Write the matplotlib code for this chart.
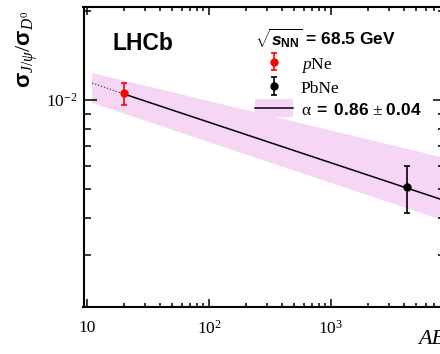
import matplotlib
matplotlib.use("Agg")
import matplotlib.pyplot as plt
from matplotlib.lines import Line2D
from matplotlib.ticker import FixedLocator, FixedFormatter, LogLocator, NullFormatter

plt.rcParams["font.family"] = ["Liberation Serif", "DejaVu Serif"]
plt.rcParams["mathtext.fontset"] = "custom"
plt.rcParams["mathtext.rm"] = "Liberation Serif"
plt.rcParams["mathtext.it"] = "Liberation Serif:italic"
plt.rcParams["mathtext.bf"] = "Liberation Sans:bold"
plt.rcParams["mathtext.bfit"] = "Liberation Sans:italic:bold"
plt.rcParams["mathtext.sf"] = "Liberation Sans"

# data
ab_pne = [20]
ratio_pne = [0.01054]
err_pne_lo = [0.00092]
err_pne_hi = [0.00087]

ab_pbne = [4160]
ratio_pbne = [0.00508]
err_pbne_lo = [0.00093]
err_pbne_hi = [0.00090]

# power-law fit, dotted extrapolation below pNe
fit_ab_extrap = [11, 20]
fit_extrap = [0.01141, 0.01048]
fit_ab = [20, 8600]
fit_vals = [0.01048, 0.004570]

band_ab = [11, 8600]
band_hi = [0.01234, 0.00637]
band_lo = [0.00977, 0.00390]

xtick_vals = [10, 100, 1000]
xtick_labels = ["10", "$10^{2}$", "$10^{3}$"]
ytick_vals = [0.01]
ytick_labels = ["$10^{-2}$"]

band_color = "#f5d6f5"

fig = plt.figure(figsize=(4.4, 3.54), dpi=100)
ax = fig.add_axes([83.5 / 440, 47 / 354, 361.5 / 440, 300 / 354])

ax.set_xscale("log")
ax.set_yscale("log")
ax.set_xlim(9.36, 8600)
ax.set_ylim(0.0020, 0.0206)

# uncertainty band
ax.fill_between(
    band_ab,
    band_lo,
    band_hi,
    facecolor=band_color,
    edgecolor="none",
    zorder=1
)

ax.plot(
    fit_ab_extrap,
    fit_extrap,
    color="#444444",
    linestyle=(0, (1, 1.5)),
    linewidth=0.9,
    zorder=2
)

ax.plot(
    fit_ab,
    fit_vals,
    color="black",
    linewidth=1.1,
    zorder=2
)

pne = ax.errorbar(
    ab_pne,
    ratio_pne,
    yerr=[err_pne_lo, err_pne_hi],
    fmt="o",
    color="#ff0000",
    markersize=5,
    elinewidth=1.2,
    capsize=2.5,
    capthick=1.2,
    zorder=3
)

pbne = ax.errorbar(
    ab_pbne,
    ratio_pbne,
    yerr=[err_pbne_lo, err_pbne_hi],
    fmt="o",
    color="black",
    markersize=5,
    elinewidth=1.2,
    capsize=2.5,
    capthick=1.2,
    zorder=3
)

# axes styling
for spine in ax.spines.values():
    spine.set_linewidth(1.5)

ax.xaxis.set_major_locator(FixedLocator(xtick_vals))
ax.xaxis.set_major_formatter(FixedFormatter(xtick_labels))
ax.xaxis.set_minor_locator(LogLocator(base=10, subs=range(2, 10), numticks=20))
ax.xaxis.set_minor_formatter(NullFormatter())
ax.yaxis.set_major_locator(FixedLocator(ytick_vals))
ax.yaxis.set_major_formatter(FixedFormatter(ytick_labels))
ax.yaxis.set_minor_locator(LogLocator(base=10, subs=range(2, 10), numticks=20))
ax.yaxis.set_minor_formatter(NullFormatter())

ax.tick_params(axis="both", which="both", direction="in",
               top=True, right=True, width=1.1, labelsize=12.5)
ax.tick_params(axis="x", which="major", length=5.8, pad=9)
ax.tick_params(axis="x", which="minor", length=2.8)
ax.tick_params(axis="y", which="major", length=9, pad=4)
ax.tick_params(axis="y", which="minor", length=5)

# axis titles
ax.text(
    -0.155,
    0.99,
    r"$\mathbf{\sigma}_{J/\psi}/\mathbf{\sigma}_{D^0}$",
    transform=ax.transAxes,
    rotation=90,
    ha="center",
    va="top",
    fontsize=16
)

ax.text(
    1.0,
    -0.11,
    "AB",
    transform=ax.transAxes,
    ha="right",
    va="center",
    fontsize=16,
    style="italic"
)

ax.text(
    0.0816,
    0.88,
    "LHCb",
    transform=ax.transAxes,
    ha="left",
    va="center",
    fontsize=16.5,
    fontweight="bold",
    family="Liberation Sans"
)

band_handle = (
    Line2D([], [], color=band_color, linewidth=13, solid_capstyle="butt"),
    Line2D([], [], color="black", linewidth=1.1)
)

leg = ax.legend(
    handles=[pne, pbne, band_handle],
    labels=[
        "$p$Ne",
        "PbNe",
        r"α $\mathbf{=}$ $\mathbf{0.86}$ ± $\mathbf{0.04}$"
    ],
    title=r"$\sqrt{\mathbfit{s}_{\mathbf{NN}}}$ = 68.5 GeV",
    title_fontproperties={"family": "Liberation Sans", "weight": "bold", "size": 12.5},
    alignment="left",
    loc="upper left",
    bbox_to_anchor=(0.474, 0.935),
    frameon=False,
    fontsize=12.5,
    borderpad=0,
    borderaxespad=0,
    handlelength=2.2,
    handleheight=1.0,
    handletextpad=0.45,
    labelspacing=0.26
)

fig.savefig("out.png", dpi=100)
